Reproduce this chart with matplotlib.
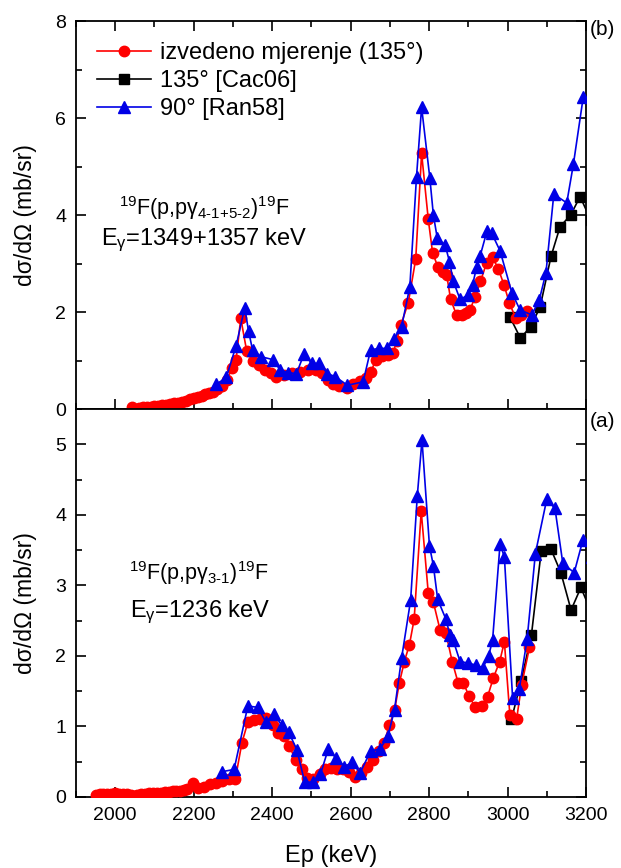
import matplotlib
matplotlib.use("Agg")
import matplotlib.pyplot as plt
from matplotlib.ticker import MultipleLocator

plt.rcParams['font.family'] = ['Liberation Sans', 'DejaVu Sans']
plt.rcParams['mathtext.fontset'] = 'custom'
plt.rcParams['mathtext.rm'] = 'Liberation Sans'
plt.rcParams['mathtext.it'] = 'Liberation Sans'

# ---- panel (b): gamma 4-1 + 5-2 ----
b_red_x = [2042, 2060, 2070, 2080, 2090, 2100, 2110, 2120, 2130, 2140, 2150, 2160,
           2170, 2180, 2190, 2200, 2210, 2220, 2230, 2240, 2250, 2260, 2272, 2285,
           2298, 2308, 2320, 2335, 2350, 2366, 2381, 2396, 2411, 2431, 2451, 2472,
           2492, 2512, 2527, 2542, 2556, 2570, 2590, 2607, 2623, 2638, 2651, 2665,
           2680, 2696, 2709, 2717, 2728, 2747, 2766, 2781, 2798, 2809, 2823, 2835,
           2845, 2855, 2870, 2883, 2894, 2904, 2917, 2931, 2947, 2962, 2977, 2991,
           3005, 3021, 3035, 3049]
b_red_y = [0.04, 0.03, 0.04, 0.04, 0.05, 0.06, 0.07, 0.08, 0.09, 0.10, 0.12, 0.13,
           0.14, 0.17, 0.20, 0.22, 0.24, 0.27, 0.30, 0.32, 0.35, 0.42, 0.47, 0.60,
           0.85, 1.02, 1.87, 1.20, 1.00, 0.90, 0.80, 0.74, 0.67, 0.70, 0.74, 0.77,
           0.80, 0.80, 0.74, 0.60, 0.52, 0.47, 0.43, 0.52, 0.58, 0.63, 0.77, 1.01,
           1.10, 1.12, 1.16, 1.40, 1.73, 2.19, 3.09, 5.27, 3.91, 3.22, 2.92, 2.83,
           2.76, 2.26, 1.94, 1.94, 1.97, 2.04, 2.30, 2.63, 3.02, 3.13, 2.88, 2.56,
           2.18, 1.87, 1.94, 2.03]

b_blk_x = [3006, 3033, 3059, 3083, 3111, 3134, 3161, 3185, 3212]
b_blk_y = [1.90, 1.46, 1.70, 2.10, 3.15, 3.76, 4.00, 4.38, 3.90]

b_blu_x = [2258, 2283, 2308, 2330, 2340, 2350, 2371, 2401, 2421, 2441, 2462, 2481,
           2501, 2520, 2541, 2560, 2592, 2632, 2651, 2673, 2692, 2711, 2730, 2751,
           2768, 2781, 2802, 2811, 2821, 2841, 2852, 2862, 2879, 2900, 2911, 2921,
           2930, 2948, 2960, 2981, 3011, 3032, 3062, 3081, 3098, 3118, 3151, 3168,
           3193]
b_blu_y = [0.51, 0.65, 1.30, 2.09, 1.60, 1.22, 1.08, 1.02, 0.80, 0.75, 0.73, 1.13,
           0.94, 0.94, 0.73, 0.67, 0.49, 0.56, 1.22, 1.25, 1.25, 1.44, 1.70, 2.52,
           4.79, 6.22, 4.76, 4.00, 3.52, 3.38, 3.04, 2.63, 2.26, 2.35, 2.56, 2.92,
           3.15, 3.68, 3.62, 3.26, 2.40, 2.04, 1.94, 2.25, 2.81, 4.43, 4.25, 5.05,
           6.43]

# ---- panel (a): gamma 3-1 ----
a_red_x = [1950, 1960, 1970, 1980, 1990, 2000, 2010, 2020, 2030, 2040,
           2056, 2066, 2076, 2086, 2096, 2106, 2116, 2126, 2136, 2146, 2156, 2166,
           2176, 2184, 2197, 2210, 2227, 2242, 2258, 2273, 2291, 2306, 2323, 2338,
           2354, 2368, 2384, 2402, 2414, 2430, 2444, 2460, 2477, 2490, 2505, 2521,
           2535, 2550, 2566, 2581, 2596, 2611, 2626, 2642, 2657, 2672, 2685, 2699,
           2712, 2724, 2737, 2750, 2762, 2780, 2798, 2811, 2828, 2843, 2859, 2874,
           2887, 2902, 2917, 2934, 2949, 2964, 2980, 2992, 3006, 3023, 3036, 3056]
a_red_y = [0.03, 0.04, 0.04, 0.04, 0.04, 0.05, 0.04, 0.04, 0.04, 0.03,
           0.03, 0.04, 0.04, 0.05, 0.05, 0.06, 0.06, 0.07, 0.07, 0.08, 0.08, 0.09,
           0.10, 0.11, 0.20, 0.13, 0.14, 0.18, 0.20, 0.22, 0.25, 0.25, 0.77, 1.06,
           1.09, 1.10, 1.12, 1.02, 0.91, 0.86, 0.72, 0.52, 0.39, 0.27, 0.25, 0.32,
           0.39, 0.41, 0.40, 0.39, 0.36, 0.29, 0.34, 0.43, 0.53, 0.65, 0.76, 1.02,
           1.23, 1.61, 1.92, 2.16, 2.52, 4.05, 2.89, 2.76, 2.37, 2.32, 1.92, 1.62,
           1.62, 1.43, 1.28, 1.29, 1.42, 1.69, 1.92, 2.20, 1.16, 1.10, 1.59, 2.12]

a_blk_x = [3010, 3035, 3061, 3086, 3111, 3136, 3162, 3187, 3215]
a_blk_y = [1.10, 1.65, 2.30, 3.49, 3.51, 3.18, 2.65, 2.97, 2.60]

a_blu_x = [2273, 2303, 2338, 2364, 2384, 2404, 2424, 2442, 2463, 2483, 2505, 2523,
           2543, 2563, 2584, 2604, 2624, 2651, 2675, 2695, 2712, 2730, 2753, 2770,
           2782, 2801, 2811, 2822, 2843, 2853, 2861, 2879, 2899, 2919, 2937, 2952,
           2962, 2981, 2992, 3013, 3030, 3050, 3071, 3100, 3121, 3141, 3170, 3192,
           3215]
a_blu_y = [0.36, 0.39, 1.29, 1.27, 1.06, 1.18, 1.02, 0.92, 0.67, 0.21, 0.21, 0.32,
           0.68, 0.55, 0.43, 0.49, 0.34, 0.65, 0.68, 0.86, 1.24, 1.97, 2.79, 4.27,
           5.06, 3.56, 3.28, 2.80, 2.52, 2.30, 2.23, 1.92, 1.90, 1.87, 1.83, 2.00,
           2.23, 3.59, 3.40, 1.40, 1.53, 2.24, 3.45, 4.22, 4.09, 3.31, 3.18, 3.64,
           3.40]

fig = plt.figure(figsize=(6.21, 8.68), dpi=100)
ax_b = fig.add_axes([0.1224, 0.5288, 0.8212, 0.4470])
ax_a = fig.add_axes([0.1224, 0.0818, 0.8212, 0.4470], sharex=ax_b)

def draw(ax, rx, ry, kx, ky, bx, by):
    ax.plot(rx, ry, '-', color='red', marker='o', ms=7.5, lw=1.2,
            label='izvedeno mjerenje (135°)', zorder=3)
    ax.plot(kx, ky, '-', color='black', marker='s', ms=6.5, lw=1.2,
            label='135° [Cac06]', zorder=2)
    ax.plot(bx, by, '-', color='#0000e6', marker='^', ms=9, lw=1.2,
            label='90° [Ran58]', zorder=4)

draw(ax_b, b_red_x, b_red_y, b_blk_x, b_blk_y, b_blu_x, b_blu_y)
draw(ax_a, a_red_x, a_red_y, a_blk_x, a_blk_y, a_blu_x, a_blu_y)

ax_b.set_xlim(1900, 3200)
ax_b.set_ylim(0, 8)
ax_a.set_ylim(0, 5.5)

ax_b.yaxis.set_major_locator(MultipleLocator(2))
ax_b.yaxis.set_minor_locator(MultipleLocator(1))
ax_a.yaxis.set_major_locator(MultipleLocator(1))
ax_a.yaxis.set_minor_locator(MultipleLocator(0.5))
ax_a.xaxis.set_major_locator(MultipleLocator(200))
ax_a.xaxis.set_minor_locator(MultipleLocator(100))

for ax in (ax_a, ax_b):
    ax.tick_params(which='both', direction='in', right=True, labelsize=14,
                   width=1.2)
    ax.tick_params(which='major', length=7, pad=7)
    ax.tick_params(which='minor', length=4)
    for s in ax.spines.values():
        s.set_linewidth(1.3)
    ax.set_ylabel('dσ/dΩ (mb/sr)', fontsize=16.5)
    ax.yaxis.set_label_coords(-0.076, 0.5)

ax_b.tick_params(which='both', top=True, labelbottom=False)
ax_a.tick_params(which='both', top=False)
ax_a.set_xlabel('Ep (keV)', fontsize=17, labelpad=15)

ax_b.legend(loc='upper left', frameon=False, fontsize=17, handlelength=2.3,
            handletextpad=0.35, labelspacing=0.25, borderaxespad=0.0,
            bbox_to_anchor=(0.023, 0.97))

ax_b.text(0.084, 0.50,
          r'$^{19}$F(p,p$\gamma_{\text{4-1+5-2}}$)$^{19}$F',
          transform=ax_b.transAxes, fontsize=15.5)
ax_b.text(0.049, 0.423, r'E$_\gamma$=1349+1357 keV', transform=ax_b.transAxes,
          fontsize=17)
ax_a.text(0.104, 0.559, r'$^{19}$F(p,p$\gamma_{\text{3-1}}$)$^{19}$F',
          transform=ax_a.transAxes, fontsize=15.5)
ax_a.text(0.106, 0.464, r'E$_\gamma$=1236 keV', transform=ax_a.transAxes,
          fontsize=17)

fig.text(0.950, 0.977, '(b)', fontsize=15, va='top')
fig.text(0.950, 0.525, '(a)', fontsize=15, va='top')

fig.savefig('out.png', dpi=100)
